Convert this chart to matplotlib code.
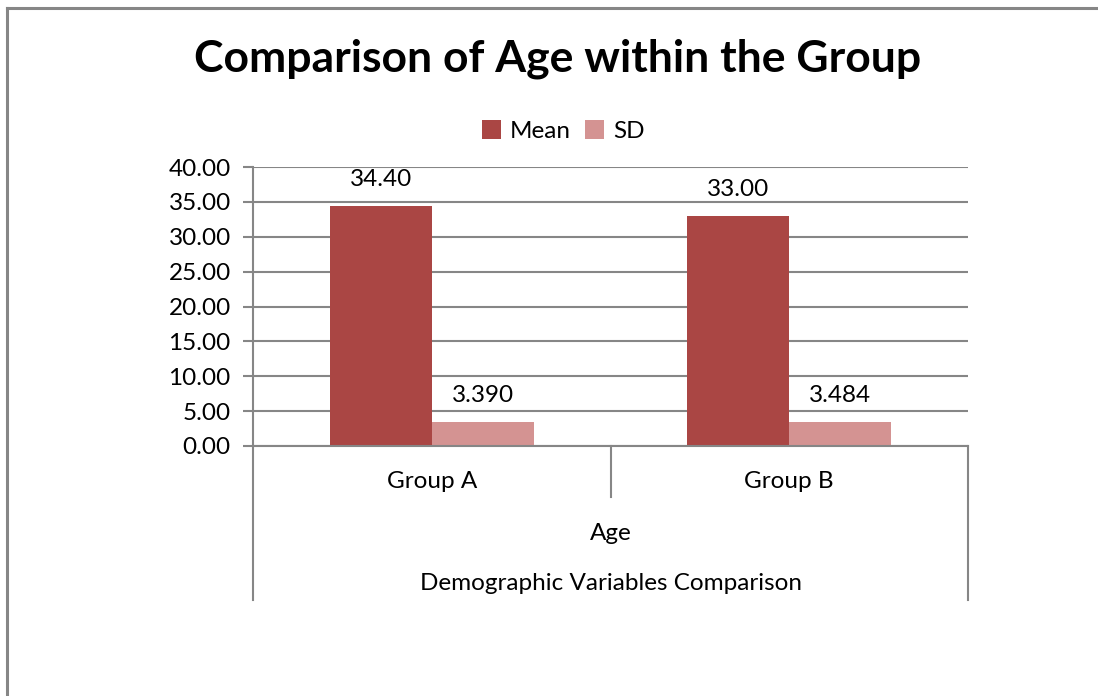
import matplotlib
matplotlib.use("Agg")
import matplotlib.pyplot as plt
from matplotlib.lines import Line2D
import matplotlib.transforms as mtransforms
import numpy as np

plt.rcParams['font.family'] = ['Lato', 'DejaVu Sans']

title = "Comparison of Age within the Group"
groups = ["Group A", "Group B"]
series_names = ["Mean", "SD"]
mean_vals = [34.40, 33.00]
sd_vals = [3.390, 3.484]
mean_labels = ["34.40", "33.00"]
sd_labels = ["3.390", "3.484"]
variable_label = "Age"
outer_label = "Demographic Variables Comparison"
y_ticks = [0, 5, 10, 15, 20, 25, 30, 35, 40]

W, H = 1098, 696
fig = plt.figure(figsize=(W / 100, H / 100), dpi=100)
FS = 17.5

def fx(px):
    return px / W

def fy(py):
    return 1 - py / H

# outer chart border (top and left edges visible)
fig.add_artist(Line2D([fx(7), fx(7)], [fy(8), 0], color="#868686", lw=2.2,
                      transform=fig.transFigure))
fig.add_artist(Line2D([fx(7), 1], [fy(8), fy(8)], color="#868686", lw=2.2,
                      transform=fig.transFigure))

left, right, top, bottom = 253, 968, 167, 446
ax = fig.add_axes([fx(left), fy(bottom), fx(right - left), (bottom - top) / H])

mean_color = "#AA4644"
sd_color = "#D49392"
grid_color = "#868686"

x = np.arange(len(groups))
w = 0.2853
b1 = ax.bar(x - w / 2, mean_vals, w, color=mean_color, label=series_names[0])
b2 = ax.bar(x + w / 2, sd_vals, w, color=sd_color, label=series_names[1])

ax.set_xlim(-0.5, len(groups) - 0.5)
ax.set_ylim(0, 40)
ax.set_yticks(y_ticks)
ax.set_yticklabels([f"{t:.2f}" for t in y_ticks], fontsize=FS)
ax.tick_params(axis='y', length=7, width=1.5, color=grid_color, pad=9)
ax.set_xticks([])
ax.yaxis.grid(True, color=grid_color, lw=1.5)
ax.set_axisbelow(True)
for s in ["top", "right", "bottom"]:
    ax.spines[s].set_visible(False)
ax.spines["left"].set_color(grid_color)
ax.spines["left"].set_linewidth(1.5)

for rect, lab in zip(b1, mean_labels):
    ax.annotate(lab, (rect.get_x() + rect.get_width() / 2, rect.get_height()),
                xytext=(0, 19), textcoords="offset points", ha="center",
                va="center", fontsize=FS)
for rect, lab in zip(b2, sd_labels):
    ax.annotate(lab, (rect.get_x() + rect.get_width() / 2, rect.get_height()),
                xytext=(0, 19), textcoords="offset points", ha="center",
                va="center", fontsize=FS)

# multi-level category axis below the plot
trans = mtransforms.blended_transform_factory(ax.transData, ax.transAxes)
axh = bottom - top

def ay(py):
    return (bottom - py) / axh

ax.add_artist(Line2D([-0.5, 1.5], [0, 0], color=grid_color, lw=1.5,
                     transform=trans, clip_on=False))
for xv, yend in [(-0.5, 600), (0.5, 497), (1.5, 600)]:
    ax.add_artist(Line2D([xv, xv], [0, ay(yend)], color=grid_color, lw=1.5,
                         transform=trans, clip_on=False))
for xi, g in zip(x, groups):
    ax.text(xi, ay(482), g, transform=trans, ha="center", va="center",
            fontsize=FS)
ax.text(0.5, ay(533), variable_label, transform=trans, ha="center",
        va="center", fontsize=FS)
ax.text(0.5, ay(584), outer_label, transform=trans, ha="center",
        va="center", fontsize=FS)

fig.text(fx(558), fy(59), title, ha="center", va="center", fontsize=32,
         fontweight="bold")

fig.legend(handles=[b1, b2], labels=series_names, loc="center",
           bbox_to_anchor=(fx(563), fy(131)), ncol=2, frameon=False,
           fontsize=FS, handlelength=0.8, handleheight=0.8,
           handletextpad=0.35, columnspacing=0.6)

fig.savefig("out.png", dpi=100)
